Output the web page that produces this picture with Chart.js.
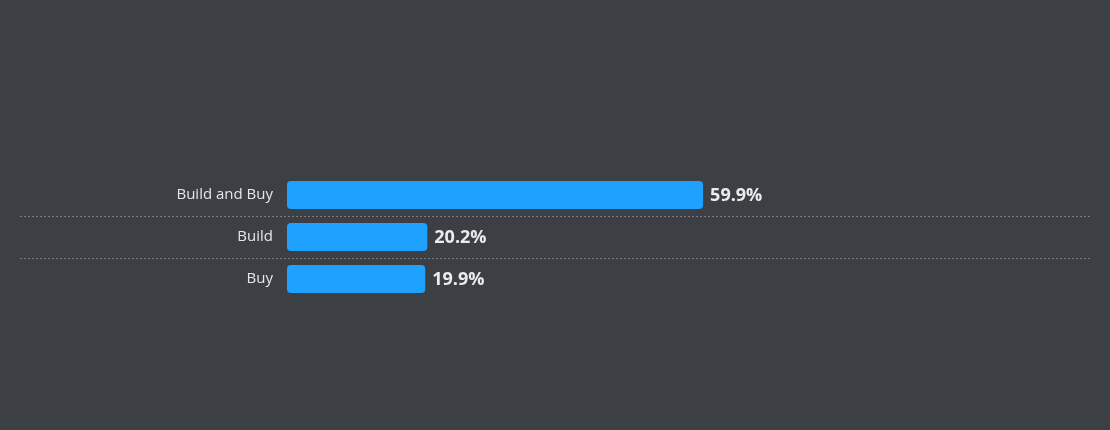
<!DOCTYPE html>
<html><head><meta charset="utf-8">
<script src="https://cdn.jsdelivr.net/npm/chart.js@4"></script>
<style>html,body{margin:0;background:#3c4044}#wrap{width:1110px;height:430px}</style>
</head><body><div id="wrap"><canvas id="c"></canvas></div>
<script>
const categories = ['Build and Buy', 'Build', 'Buy'];
const shares = [59.9, 20.2, 19.9];

// dashed separators across the full width, plus value labels
const extras = {
  id: 'extras',
  afterDatasetsDraw(chart) {
    const ctx = chart.ctx, y = chart.scales.y;
    ctx.save();
    ctx.strokeStyle = '#7a7e82';
    ctx.setLineDash([2, 2]);
    ctx.lineWidth = 1;
    for (let i = 0; i < categories.length - 1; i++) {
      const py = Math.round((y.getPixelForValue(i) + y.getPixelForValue(i + 1)) / 2) + 0.5;
      ctx.beginPath(); ctx.moveTo(20, py); ctx.lineTo(1090, py); ctx.stroke();
    }
    ctx.setLineDash([]);
    ctx.font = 'bold 18px "Open Sans", sans-serif';
    ctx.fillStyle = '#ebebeb';
    ctx.textBaseline = 'middle';
    chart.getDatasetMeta(0).data.forEach((bar, i) => {
      ctx.fillText(shares[i].toFixed(1) + '%', bar.x + 7, bar.y + 1);
    });
    ctx.restore();
  }
};

new Chart(document.getElementById('c'), {
  type: 'bar',
  data: {
    labels: categories,
    datasets: [{
      data: shares,
      backgroundColor: '#1ea1ff',
      borderRadius: 4,
      borderSkipped: false,
      barPercentage: 0.67,
      categoryPercentage: 1
    }]
  },
  options: {
    indexAxis: 'y',
    responsive: true,
    maintainAspectRatio: false,
    animation: false,
    layout: { padding: { top: 174, bottom: 130, left: 0, right: 20 } },
    plugins: { legend: { display: false }, tooltip: { enabled: false } },
    scales: {
      x: { display: false, min: 0, max: 115.6 },
      y: {
        afterFit: s => { s.width = 287; },
        grid: { display: false, drawTicks: false },
        border: { display: false },
        ticks: { color: '#e6e6e6', padding: 14, font: { size: 15, family: '"Open Sans", sans-serif' } }
      }
    }
  },
  plugins: [extras]
});
</script></body></html>
